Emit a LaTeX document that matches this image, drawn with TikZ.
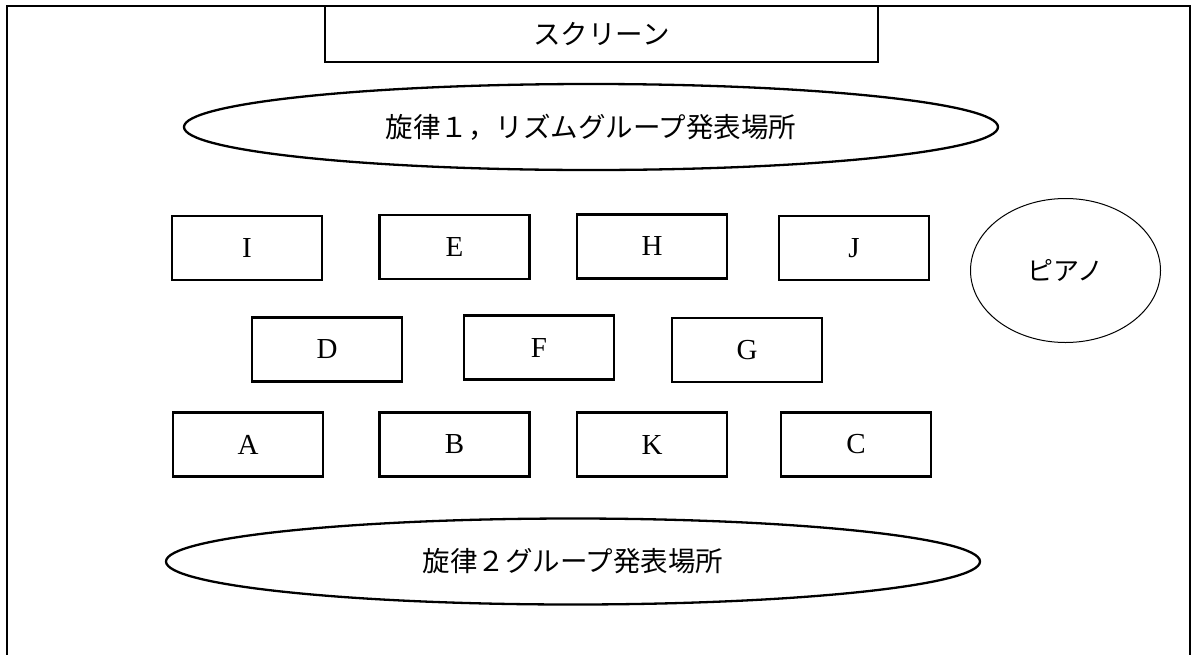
\documentclass[tikz,border=0pt]{standalone}
\usepackage{fontspec}
\setmainfont{Liberation Serif}
\newfontfamily\jp{Noto Sans CJK JP}
\usetikzlibrary{shapes.geometric}
\begin{document}
\begin{tikzpicture}[x=1pt,y=-1pt,
  desk/.style={draw,line width=2.1pt,minimum width=150pt,minimum height=64pt,inner sep=0pt,
    font=\fontsize{29}{30}\selectfont},
  stage/.style={draw,ellipse,line width=2.3pt,minimum width=814pt,minimum height=86pt,inner sep=0pt,
    font=\jp\fontsize{27.5}{30}\selectfont},
  screenbox/.style={draw,line width=1.5pt,minimum width=553pt,minimum height=56pt,inner sep=0pt,
    font=\jp\fontsize{27.5}{30}\selectfont},
  pianoshape/.style={draw,ellipse,line width=1pt,minimum width=190pt,minimum height=144pt,inner sep=0pt,
    font=\jp\fontsize{26}{30}\selectfont}]
\useasboundingbox (0,0) rectangle (1192,654);
\draw[line width=2pt] (6.5,660) -- (6.5,5.5) -- (1190,5.5) -- (1190,660);
\node[screenbox] (screen) at (601.5,34) {スクリーン};
\node[stage] (stage1) at (591,127) {旋律１，リズムグループ発表場所};
\node[stage] (stage2) at (573,561.5) {旋律２グループ発表場所};
\node[pianoshape] (piano) at (1065.5,270.5) {ピアノ};
\node[desk] (I) at (247,248) {I};
\node[desk] (E) at (454.5,247) {E};
\node[desk] (H) at (652,246.5) {H};
\node[desk] (J) at (854,248) {J};
\node[desk] (D) at (327,349.5) {D};
\node[desk] (F) at (539,347.5) {F};
\node[desk] (G) at (747,350) {G};
\node[desk] (A) at (248,444.5) {A};
\node[desk] (B) at (454.5,444.5) {B};
\node[desk] (K) at (652,444.5) {K};
\node[desk] (C) at (856,444.5) {C};
\end{tikzpicture}
\end{document}
